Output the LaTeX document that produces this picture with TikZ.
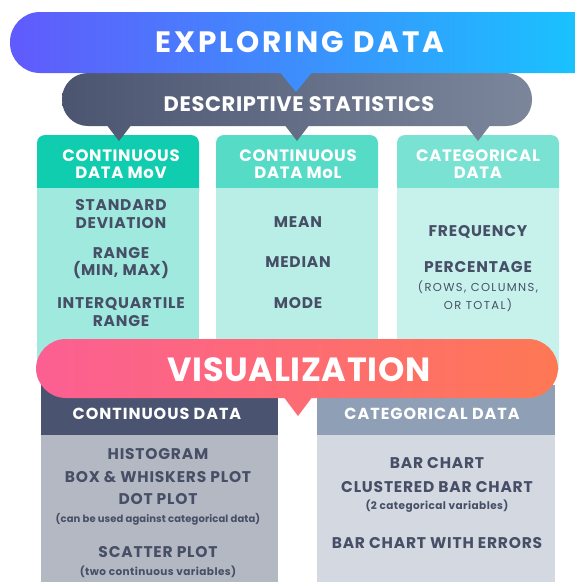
\documentclass[tikz,border=0pt]{standalone}
\usepackage{fontspec}
\setmainfont{Poppins}
\usetikzlibrary{positioning}

\definecolor{bleuA}{HTML}{615AFC}
\definecolor{bleuB}{HTML}{16C7FE}
\definecolor{grisA}{HTML}{4B5570}
\definecolor{grisB}{HTML}{7C869B}
\definecolor{roseA}{HTML}{FC5F93}
\definecolor{roseB}{HTML}{FE7854}
\definecolor{tete1}{HTML}{10CDAF}
\definecolor{corps1}{HTML}{A0E9DF}
\definecolor{tete2}{HTML}{56DBC7}
\definecolor{corps2}{HTML}{B8EEE6}
\definecolor{tete3}{HTML}{79E2D3}
\definecolor{corps3}{HTML}{C7F2EC}
\definecolor{teteG}{HTML}{4A5470}
\definecolor{corpsG}{HTML}{B4B8C2}
\definecolor{teteD}{HTML}{8F9FB6}
\definecolor{corpsD}{HTML}{D3D8E1}
\definecolor{encre}{HTML}{474F67}

\newcommand{\espace}[1]{\addfontfeature{LetterSpace=#1}}

\begin{document}
\begin{tikzpicture}[x=1pt,y=-1pt,
    titre/.style={text=white,font=\bfseries\fontsize{29.5}{31}\selectfont\espace{10}},
    soustitre/.style={text=white,font=\bfseries\fontsize{21}{23}\selectfont\espace{3}},
    entete/.style={text=white,font=\bfseries\fontsize{16.5}{17.5}\selectfont\espace{4},align=center},
    enbas/.style={text=white,font=\bfseries\fontsize{16}{18}\selectfont\espace{6},align=center},
    item/.style={text=encre,font=\bfseries\fontsize{15.5}{17.5}\selectfont\espace{5},align=center},
    note/.style={text=encre,font=\fontsize{11.5}{18}\selectfont\espace{12},align=center},
    petit/.style={text=encre,font=\bfseries\fontsize{10}{12}\selectfont\espace{1},align=center},
    petit2/.style={petit,font=\bfseries\fontsize{10.5}{12}\selectfont\espace{4}}]
  \clip (0,0) rectangle (575,582);
  \fill[white] (0,0) rectangle (575,582);

  % Colonnes
  \fill[tete1,rounded corners=8] (37,135) rectangle (199,200);
  \fill[corps1] (37,188) rectangle (199,370);
  \fill[tete2,rounded corners=8] (216,135) rectangle (378,200);
  \fill[corps2] (216,188) rectangle (378,370);
  \fill[tete3,rounded corners=8] (397,135) rectangle (559,200);
  \fill[corps3] (397,188) rectangle (559,370);

  % Bandeau statistiques
  \shade[left color=grisA,right color=grisB]
    [rounded corners=26] (62,73) rectangle (532,126)
    [sharp corners] (99,115) -- (119,141) -- (139,115) -- cycle
    (277,115) -- (297,141) -- (317,115) -- cycle
    (458,115) -- (478,141) -- (498,115) -- cycle;

  % Bandeau principal
  \shade[left color=bleuA,right color=bleuB]
    [rounded corners=30] (10,12) rectangle (605,73)
    [sharp corners] (270,60) -- (296,92) -- (322,60) -- cycle;

  \node[titre] (explo) at (300,42) {EXPLORING DATA};
  \node[soustitre] (descr) at (299,104) {DESCRIPTIVE STATISTICS};

  % Textes des colonnes
  \node[entete] (mov) at (121,164) {CONTINUOUS\\DATA MoV};
  \node[entete] (mol) at (298,164) {CONTINUOUS\\DATA MoL};
  \node[entete] (cat) at (478,164) {CATEGORICAL\\DATA};

  \node[item] (ecart) at (121,214) {STANDARD\\DEVIATION};
  \node[item] (etendue) at (121,263) {RANGE\\(MIN, MAX)};
  \node[item] (iqr) at (121,312) {INTERQUARTILE\\RANGE};

  \node[item] (moy) at (298,222) {MEAN};
  \node[item] (med) at (298,262) {MEDIAN};
  \node[item] (mode) at (298,303) {MODE};

  \node[item] (freq) at (478,232) {FREQUENCY};
  \node[item] (pct) at (478,267) {PERCENTAGE};
  \node[note] (lignes) at (478,296) {(ROWS, COLUMNS,\\OR TOTAL)};

  % Cadres du bas
  \fill[teteG] (41,385) rectangle (278,436);
  \fill[corpsG] (41,435) rectangle (278,590);
  \fill[teteD] (317,385) rectangle (555,436);
  \fill[corpsD] (317,435) rectangle (555,590);

  % Bandeau visualisation
  \shade[left color=roseA,right color=roseB]
    [rounded corners=30] (36,339) rectangle (558,398)
    [sharp corners] (277,388) -- (298,416) -- (319,388) -- cycle;
  \node[titre,font=\bfseries\fontsize{33.5}{35}\selectfont\espace{2}] (visu) at (299,370) {VISUALIZATION};

  \node[enbas] (contG) at (157,414) {CONTINUOUS DATA};
  \node[enbas] (catD) at (432,414) {CATEGORICAL DATA};

  \node[item] (histo) at (158,454) {HISTOGRAM};
  \node[item] (boite) at (158,477) {BOX \& WHISKERS PLOT};
  \node[item] (points) at (158,499) {DOT PLOT};
  \node[petit] (contre) at (158,519) {(can be used against categorical data)};
  \node[item] (nuage) at (158,552) {SCATTER PLOT};
  \node[petit2] (deux) at (158,572) {(two continuous variables)};

  \node[item] (barres) at (437,463) {BAR CHART};
  \node[item] (grp) at (437,487) {CLUSTERED BAR CHART};
  \node[petit2] (deuxcat) at (437,506) {(2 categorical variables)};
  \node[item] (err) at (437,543) {BAR CHART WITH ERRORS};
\end{tikzpicture}
\end{document}
